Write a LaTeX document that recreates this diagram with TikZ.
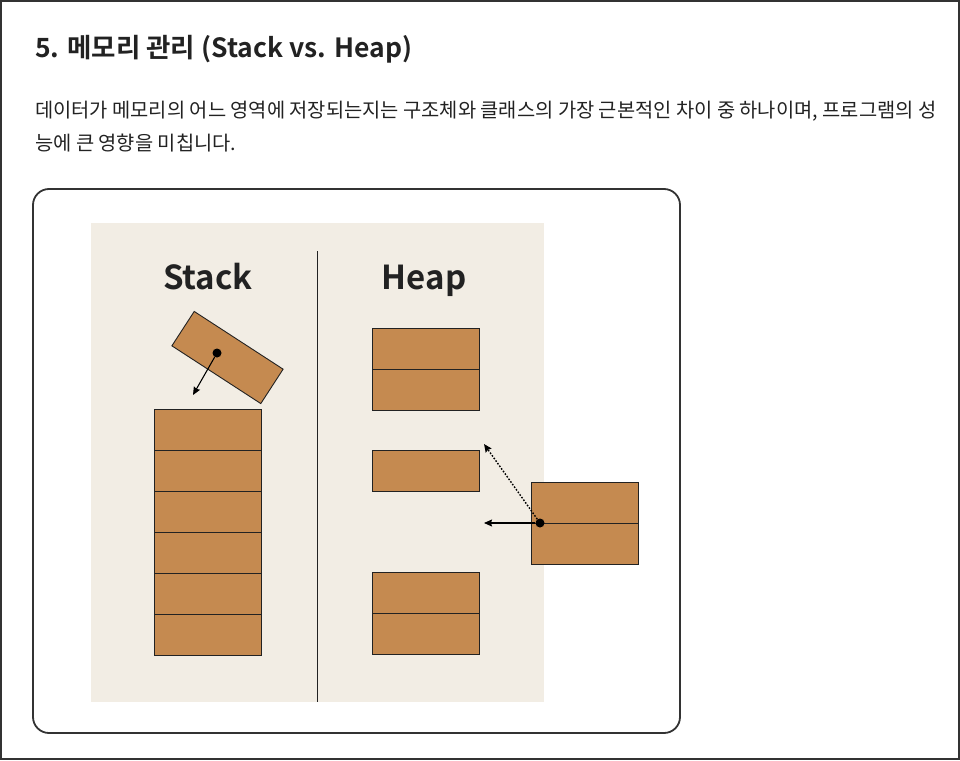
\documentclass[tikz,border=0pt]{standalone}
\usepackage{fontspec}
\setmainfont{Noto Sans CJK KR}[BoldFont={* Bold}]
\usepackage{tikz}
\usetikzlibrary{arrows.meta,positioning}
\definecolor{ink}{HTML}{222222}
\definecolor{framegray}{HTML}{333333}
\definecolor{sand}{HTML}{F2EDE4}
\definecolor{clay}{HTML}{C58A50}
\tikzset{
  frame/.style  ={draw=framegray,line width=2pt},
  card/.style   ={draw=framegray,line width=1.8pt,rounded corners=16pt},
  panel/.style  ={fill=sand},
  divider/.style={draw=ink,line width=1.4pt},
  area/.style   ={font=\bfseries\fontsize{33}{38}\selectfont,text=ink,anchor=base,inner sep=0pt},
  cell/.style   ={draw=ink,line width=0.9pt,fill=clay,minimum width=107pt,minimum height=41pt,
                  inner sep=0pt,outer sep=0pt},
  dot/.style    ={circle,fill=black,inner sep=0pt,minimum size=9pt},
  push/.style   ={-{Stealth[length=8pt,width=7pt,inset=1pt]},line width=1.1pt,draw=black},
  ref/.style    ={-{Stealth[length=8pt,width=7pt,inset=1pt]},line width=1.4pt,draw=black,
                  dash pattern=on 1.6pt off 1.6pt}
}
\begin{document}
\begin{tikzpicture}[x=1pt,y=-1pt,node distance=0pt]
    \useasboundingbox (0,0) rectangle (960,760);
    \draw[frame] (1,1) rectangle (959,759);
    % heading and intro text
    \node[anchor=base west,inner sep=0pt,text=ink,font=\bfseries\fontsize{26.5}{32}\selectfont] (title) at (35,57)
      {5. 메모리 관리 (Stack vs. Heap)};
    \node[anchor=base west,inner sep=0pt,text=ink,font=\fontsize{19.8}{33}\selectfont] (introa) at (35,117)
      {데이터가 메모리의 어느 영역에 저장되는지는 구조체와 클래스의 가장 근본적인 차이 중 하나이며, 프로그램의 성};
    \node[anchor=base west,inner sep=0pt,text=ink,font=\fontsize{19.8}{33}\selectfont] (introb) at (35,150)
      {능에 큰 영향을 미칩니다.};
    % card with the two memory areas
    \draw[card] (33,189) rectangle (680,733);
    \fill[panel] (91,223) rectangle (544,702);
    \draw[divider] (317.5,251) -- (317.5,702);
    \node[area] (stacklbl) at (208,289) {Stack};
    \node[area] (heaplbl) at (424,289) {Heap};
    % stack: one frame being pushed on top
    \node[cell] (s1) at (207.5,429.5) {};
    \node[cell,below=of s1] (s2) {};
    \node[cell,below=of s2] (s3) {};
    \node[cell,below=of s3] (s4) {};
    \node[cell,below=of s4] (s5) {};
    \node[cell,below=of s5] (s6) {};
    \node[cell,minimum width=106pt,rotate=-33] (frame) at (227.5,357.5) {};
    \node[dot] (pushdot) at (217,353) {};
    \coordinate (pushend) at (193,395);
    \draw[push] (pushdot) -- (pushend);
    % heap: scattered blocks
    \node[cell] (h1) at (425.5,349) {};
    \node[cell,below=of h1] (h2) {};
    \node[cell] (h3) at (425.5,470.5) {};
    \node[cell] (h4) at (425.5,592.5) {};
    \node[cell,below=of h4] (h5) {};
    \node[cell] (e1) at (584.5,502.5) {};
    \node[cell,below=of e1] (e2) {};
    \node[dot] (heapdot) at ([xshift=9pt]e1.south west) {};
    \coordinate (alloc) at (484,523);
    \coordinate (link) at (484,444);
    \draw[push] (heapdot) -- (alloc);
    \draw[ref] (heapdot) -- (link);
\end{tikzpicture}
\end{document}
